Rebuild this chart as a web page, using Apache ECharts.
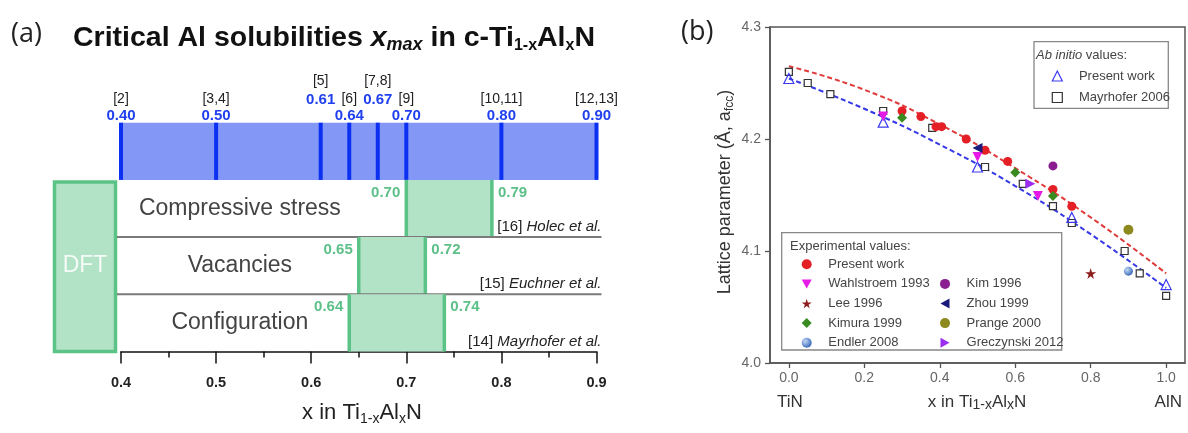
<!DOCTYPE html>
<html><head><meta charset="utf-8">
<script src="https://cdn.jsdelivr.net/npm/echarts@6/dist/echarts.min.js"></script>
<style>html,body{margin:0;padding:0;background:#fff}#c{width:1188px;height:433px}</style>
</head><body><div id="c"></div>
<script>
// ---------------- DATA: panel (a) ----------------
const litValues = [0.40, 0.50, 0.61, 0.64, 0.67, 0.70, 0.80, 0.90];
const litRefs = ['[2]', '[3,4]', '[5]', '[6]', '[7,8]', '[9]', '[10,11]', '[12,13]'];
const modelNames = ['Compressive stress', 'Vacancies', 'Configuration'];
const modelLow = [0.70, 0.65, 0.64];
const modelHigh = [0.79, 0.72, 0.74];
const modelRefNum = ['[16]', '[15]', '[14]'];
const modelRefAuthor = ['Holec et al.', 'Euchner et al.', 'Mayrhofer et al.'];
const methodLabel = 'DFT';

// ---------------- DATA: panel (b) ----------------
const xTicksB = [0.0, 0.2, 0.4, 0.6, 0.8, 1.0];
const abPresentX = [0.00, 0.25, 0.50, 0.75, 1.00];
const abPresentY = [4.254, 4.215, 4.175, 4.130, 4.070];
const mayrhoferX = [0.00, 0.05, 0.11, 0.25, 0.38, 0.52, 0.62, 0.70, 0.75, 0.89, 0.93, 1.00];
const mayrhoferY = [4.260, 4.250, 4.240, 4.225, 4.210, 4.175, 4.160, 4.140, 4.125, 4.100, 4.080, 4.060];
const expPresentX = [0.30, 0.35, 0.39, 0.405, 0.47, 0.52, 0.58, 0.70, 0.75];
const expPresentY = [4.225, 4.220, 4.211, 4.211, 4.200, 4.190, 4.180, 4.155, 4.140];
const wahlX = [0.25, 0.50, 0.66];
const wahlY = [4.220, 4.184, 4.149];
const leeX = [0.80];
const leeY = [4.080];
const kimuraX = [0.30, 0.60, 0.70];
const kimuraY = [4.219, 4.170, 4.149];
const endlerX = [0.90];
const endlerY = [4.082];
const kimX = [0.70];
const kimY = [4.176];
const zhouX = [0.50];
const zhouY = [4.192];
const prangeX = [0.90];
const prangeY = [4.119];
const greczX = [0.64];
const greczY = [4.160];
const fitX = [0.00, 0.20, 0.40, 0.60, 0.80, 1.00];
const fitExpY = [4.265, 4.244, 4.213, 4.174, 4.130, 4.080];
const fitAbY = [4.254, 4.227, 4.195, 4.158, 4.115, 4.067];

// ---------------- STYLE ----------------
const FONT = '"Liberation Sans", Arial, Helvetica, sans-serif';
const BAND = '#8398f6';
const BLUE_LINE = '#0b30f2';
const BLUE_TXT = '#1f3ff0';
const GREEN_FILL = '#b3e3c6';
const GREEN_LINE = '#5cc387';
const GREEN_TXT = '#5cc088';
const ROW_NAME_X = 0.525;
const TRI_DOWN = 'path://M0,0 L10,0 L5,9 Z';
const TRI_LEFT = 'path://M9,0 L9,10 L0,5 Z';
const TRI_RIGHT = 'path://M0,0 L0,10 L9,5 Z';
const STAR = 'path://M50,0 L61,35 L98,35 L68,57 L79,91 L50,70 L21,91 L32,57 L2,35 L39,35 Z';

const zip = (xs, ys) => xs.map((x, i) => [x, ys[i]]);

// tier of literature labels: raise a label when the next line is very close
const litTier = litValues.map(() => 0);
for (let i = 0; i < litValues.length - 1; i++) {
  if (litValues[i + 1] - litValues[i] < 0.045 && (i === 0 || litTier[i - 1] === 0)) litTier[i] = 1;
}

function txt(x, y, text, font, fill, align, valign, extra) {
  return Object.assign({ type: 'text', x: x, y: y, style: { text: text, font: font, fill: fill,
    textAlign: align, textVerticalAlign: valign, align: align, verticalAlign: valign } }, extra || {});
}

const chart = echarts.init(document.getElementById('c'), null, { renderer: 'canvas' });

const nRows = modelNames.length;

const series = [
  // blue band of experimental values
  { type: 'custom', xAxisIndex: 0, yAxisIndex: 0, clip: false, silent: true, z: 1,
    data: [[litValues[0], litValues[litValues.length - 1]]],
    renderItem: (p, api) => {
      const a = api.coord([api.value(0), nRows + 1]);
      const b = api.coord([api.value(1), nRows]);
      return { type: 'rect', shape: { x: a[0], y: a[1], width: b[0] - a[0], height: b[1] - a[1] }, style: { fill: BAND } };
    } },
  // literature lines and labels
  { type: 'custom', xAxisIndex: 0, yAxisIndex: 0, clip: false, silent: true, z: 2,
    data: litValues.map((v, i) => [v, i]),
    renderItem: (p, api) => {
      const i = p.dataIndex, v = api.value(0);
      const t = api.coord([v, nRows + 1]);
      const b = api.coord([v, nRows]);
      const tier = litTier[i];
      return { type: 'group', children: [
        { type: 'line', shape: { x1: t[0], y1: t[1], x2: b[0], y2: b[1] }, style: { stroke: BLUE_LINE, lineWidth: 4 } },
        txt(t[0], t[1] - 7 - 16 * tier, v.toFixed(2), 'bold 15px ' + FONT, BLUE_TXT, 'center', 'middle'),
        txt(t[0], t[1] - 23.5 - 18.5 * tier, litRefs[i], '14px ' + FONT, '#222', 'center', 'middle')
      ] };
    } },
  // DFT box
  { type: 'custom', xAxisIndex: 0, yAxisIndex: 0, clip: false, silent: true, z: 2,
    data: [[0, nRows]],
    renderItem: (p, api) => {
      const a = api.coord([litValues[0], api.value(1)]);
      const b = api.coord([litValues[0], api.value(0)]);
      const x0 = a[0] - 66.5, x1 = a[0] - 5.5;
      return { type: 'group', children: [
        { type: 'rect', shape: { x: x0, y: a[1] + 2, width: x1 - x0, height: b[1] - a[1] - 2 },
          style: { fill: GREEN_FILL, stroke: GREEN_LINE, lineWidth: 3.5 } },
        txt((x0 + x1) / 2, (a[1] + b[1]) / 2, methodLabel, '23px ' + FONT, '#f4fbf7', 'center', 'middle')
      ] };
    } },
  // DFT model rows
  { type: 'custom', xAxisIndex: 0, yAxisIndex: 0, clip: false, silent: true, z: 3,
    data: modelNames.map((n, i) => [modelLow[i], modelHigh[i]]),
    renderItem: (p, api) => {
      const i = p.dataIndex, lo = api.value(0), hi = api.value(1);
      const yTop = nRows - i, yBot = nRows - i - 1;
      const a = api.coord([lo, yTop]);
      const b = api.coord([hi, yBot]);
      const xStart = api.coord([litValues[0], 0])[0];
      const xEnd = api.coord([litValues[litValues.length - 1], 0])[0] + 5;
      const ch = [];
      ch.push({ type: 'rect', shape: { x: a[0], y: a[1], width: b[0] - a[0], height: b[1] - a[1] }, style: { fill: GREEN_FILL } });
      ch.push({ type: 'line', shape: { x1: a[0], y1: a[1], x2: a[0], y2: b[1] }, style: { stroke: GREEN_LINE, lineWidth: 3.5 } });
      ch.push({ type: 'line', shape: { x1: b[0], y1: a[1], x2: b[0], y2: b[1] }, style: { stroke: GREEN_LINE, lineWidth: 3.5 } });
      ch.push(txt(a[0] - 6, a[1] + 13, lo.toFixed(2), 'bold 15px ' + FONT, GREEN_TXT, 'right', 'middle'));
      ch.push(txt(b[0] + 6, a[1] + 13, hi.toFixed(2), 'bold 15px ' + FONT, GREEN_TXT, 'left', 'middle'));
      const nm = api.coord([ROW_NAME_X, (yTop + yBot) / 2]);
      ch.push(txt(nm[0], nm[1], modelNames[i], '23px ' + FONT, '#444', 'center', 'middle'));
      ch.push({ type: 'text', x: xEnd, y: b[1] - 10, style: {
        text: '{n|' + modelRefNum[i] + ' }{a|' + modelRefAuthor[i] + '}', fill: '#222',
        font: '15px ' + FONT, textAlign: 'right', textVerticalAlign: 'middle', align: 'right', verticalAlign: 'middle',
        rich: { n: { fontSize: 15, fontFamily: FONT, fill: '#222' }, a: { fontSize: 15, fontStyle: 'italic', fontFamily: FONT, fill: '#222' } } } });
      if (i < nRows - 1) {
        ch.push({ type: 'line', shape: { x1: xStart - 4, y1: b[1], x2: xEnd, y2: b[1] }, style: { stroke: '#7a7a7a', lineWidth: 2 } });
      }
      return { type: 'group', children: ch };
    } },

  // ---------- panel (b) ----------
  { name: 'fitExp', type: 'line', xAxisIndex: 1, yAxisIndex: 1, data: zip(fitX, fitExpY), smooth: true, symbol: 'none',
    lineStyle: { color: '#e03a3a', width: 2, type: [5, 3] }, silent: true, z: 1 },
  { name: 'fitAb', type: 'line', xAxisIndex: 1, yAxisIndex: 1, data: zip(fitX, fitAbY), smooth: true, symbol: 'none',
    lineStyle: { color: '#3438e6', width: 2, type: [5, 3] }, silent: true, z: 1 },
  { name: 'Mayrhofer 2006', type: 'scatter', xAxisIndex: 1, yAxisIndex: 1, data: zip(mayrhoferX, mayrhoferY),
    symbol: 'rect', symbolSize: 7, itemStyle: { color: '#fff', borderColor: '#333', borderWidth: 1.2, opacity: 1 }, z: 3 },
  { name: 'Present work (ab initio)', type: 'scatter', xAxisIndex: 1, yAxisIndex: 1, data: zip(abPresentX, abPresentY),
    symbol: 'triangle', symbolSize: 10, itemStyle: { color: 'rgba(255,255,255,0)', borderColor: '#3a3af0', borderWidth: 1.2, opacity: 1 }, z: 3 },
  { name: 'Present work (exp.)', type: 'scatter', xAxisIndex: 1, yAxisIndex: 1, data: zip(expPresentX, expPresentY),
    symbol: 'circle', symbolSize: 9, itemStyle: { color: '#e42026', opacity: 1 }, z: 4 },
  { name: 'Wahlstroem 1993', type: 'scatter', xAxisIndex: 1, yAxisIndex: 1, data: zip(wahlX, wahlY),
    symbol: TRI_DOWN, symbolSize: 10, itemStyle: { color: '#e619e6', opacity: 1 }, z: 4 },
  { name: 'Lee 1996', type: 'scatter', xAxisIndex: 1, yAxisIndex: 1, data: zip(leeX, leeY),
    symbol: STAR, symbolSize: 11, itemStyle: { color: '#8e1d1d', opacity: 1 }, z: 4 },
  { name: 'Kimura 1999', type: 'scatter', xAxisIndex: 1, yAxisIndex: 1, data: zip(kimuraX, kimuraY),
    symbol: 'diamond', symbolSize: 10, itemStyle: { color: '#3a8a22', opacity: 1 }, z: 4 },
  { name: 'Endler 2008', type: 'scatter', xAxisIndex: 1, yAxisIndex: 1, data: zip(endlerX, endlerY),
    symbol: 'circle', symbolSize: 9,
    itemStyle: { color: { type: 'radial', x: 0.35, y: 0.35, r: 0.75, colorStops: [{ offset: 0, color: '#c4daf5' }, { offset: 1, color: '#2c5fb4' }] }, opacity: 1 }, z: 4 },
  { name: 'Kim 1996', type: 'scatter', xAxisIndex: 1, yAxisIndex: 1, data: zip(kimX, kimY),
    symbol: 'circle', symbolSize: 9, itemStyle: { color: '#8a1d90', opacity: 1 }, z: 4 },
  { name: 'Zhou 1999', type: 'scatter', xAxisIndex: 1, yAxisIndex: 1, data: zip(zhouX, zhouY),
    symbol: TRI_LEFT, symbolSize: 10, itemStyle: { color: '#1a1a7a', opacity: 1 }, z: 4 },
  { name: 'Prange 2000', type: 'scatter', xAxisIndex: 1, yAxisIndex: 1, data: zip(prangeX, prangeY),
    symbol: 'circle', symbolSize: 10, itemStyle: { color: '#8c8a1e', opacity: 1 }, z: 4 },
  { name: 'Greczynski 2012', type: 'scatter', xAxisIndex: 1, yAxisIndex: 1, data: zip(greczX, greczY),
    symbol: TRI_RIGHT, symbolSize: 10, itemStyle: { color: '#9a2df0', opacity: 1 }, z: 4 }
];

const legendCommon = {
  orient: 'vertical', padding: 0, itemWidth: 10, itemHeight: 10, selectedMode: false,
  textStyle: { fontSize: 13, color: '#444', fontFamily: FONT, lineHeight: 14, padding: [0, 0, 0, 11.6] },
  formatter: n => n.replace(' (ab initio)', '').replace(' (exp.)', '')
};

const subRich = (main, sub, mainLH, subLH, color, weight) => ({
  m: { fontSize: main, fontFamily: FONT, lineHeight: mainLH, fill: color, fontWeight: weight || 'normal' },
  s: { fontSize: sub, fontFamily: FONT, lineHeight: subLH, verticalAlign: 'bottom', fill: color, fontWeight: weight || 'normal' }
});

const graphics = [
  txt(11, 34, '(a)', '27px "Open Sans", ' + FONT, '#222', 'left', 'middle'),
  txt(681, 32, '(b)', '27px "Open Sans", ' + FONT, '#222', 'left', 'middle'),
  { type: 'text', x: 334, y: 38, style: {
    text: '{b|Critical Al solubilities }{bi|x}{bis|max}{b| in c-Ti}{bs|1-x}{b|Al}{bs|x}{b|N}',
    fill: '#111', font: 'bold 28px ' + FONT, textAlign: 'center', textVerticalAlign: 'middle', align: 'center', verticalAlign: 'middle',
    rich: {
      b: { fontSize: 28.5, fontWeight: 'bold', fontFamily: FONT, lineHeight: 32, fill: '#111' },
      bi: { fontSize: 28.5, fontWeight: 'bold', fontStyle: 'italic', fontFamily: FONT, lineHeight: 32, fill: '#111' },
      bis: { fontSize: 18, fontWeight: 'bold', fontStyle: 'italic', fontFamily: FONT, lineHeight: 20, verticalAlign: 'bottom', fill: '#111' },
      bs: { fontSize: 16, fontWeight: 'bold', fontFamily: FONT, lineHeight: 25, verticalAlign: 'bottom', fill: '#111' }
    } } },
  { type: 'text', x: 362, y: 413, style: {
    text: '{m|x in Ti}{s|1-x}{m|Al}{s|x}{m|N}', fill: '#222', font: '22px ' + FONT,
    textAlign: 'center', textVerticalAlign: 'middle', align: 'center', verticalAlign: 'middle',
    rich: subRich(22, 14, 26, 20, '#222') } },
  // panel (b) axis names
  { type: 'text', x: 725, y: 192, rotation: Math.PI / 2, style: {
    text: '{m|Lattice parameter (Å, a}{s|fcc}{m|)}', fill: '#333', font: '18px ' + FONT,
    textAlign: 'center', textVerticalAlign: 'middle', align: 'center', verticalAlign: 'middle',
    rich: subRich(18, 12, 22, 14, '#333') } },
  txt(777, 402, 'TiN', '17px ' + FONT, '#333', 'left', 'middle'),
  txt(1182, 402, 'AlN', '17px ' + FONT, '#333', 'right', 'middle'),
  { type: 'text', x: 977, y: 402, style: {
    text: '{m|x in Ti}{s|1-x}{m|Al}{s|x}{m|N}', fill: '#333', font: '17px ' + FONT,
    textAlign: 'center', textVerticalAlign: 'middle', align: 'center', verticalAlign: 'middle',
    rich: subRich(17, 14, 20, 9, '#333') } },
  // legend boxes & headers
  { type: 'rect', shape: { x: 1034, y: 41.7, width: 134.3, height: 66.6 }, style: { fill: 'none', stroke: '#888', lineWidth: 1.3 } },
  { type: 'text', x: 1036, y: 55, style: {
    text: '{i|Ab initio}{n| values:}', fill: '#444', font: '13px ' + FONT,
    textAlign: 'left', textVerticalAlign: 'middle', align: 'left', verticalAlign: 'middle',
    rich: { i: { fontSize: 13, fontStyle: 'italic', fontFamily: FONT, fill: '#444' }, n: { fontSize: 13, fontFamily: FONT, fill: '#444' } } } },
  { type: 'rect', shape: { x: 781.7, y: 232.7, width: 280, height: 117.3 }, style: { fill: 'none', stroke: '#888', lineWidth: 1.3 } },
  txt(790, 246.7, 'Experimental values:', '13px ' + FONT, '#444', 'left', 'middle')
];

const option = {
  animation: false,
  backgroundColor: '#fff',
  textStyle: { fontFamily: FONT },
  grid: [
    { left: 121, top: 122.7, width: 475.5, height: 228.8 },
    { left: 770, top: 27, width: 415, height: 336, show: true, borderColor: '#555', borderWidth: 1.5, backgroundColor: 'transparent' }
  ],
  xAxis: [
    { gridIndex: 0, type: 'value', min: 0.4, max: 0.9, interval: 0.1,
      axisLine: { show: true, onZero: false, lineStyle: { color: '#111', width: 1.5 } },
      axisTick: { show: true, length: 12, lineStyle: { color: '#111', width: 1.5 } },
      minorTick: { show: true, splitNumber: 2, length: 6, lineStyle: { color: '#111', width: 1.5 } },
      axisLabel: { margin: 24, fontSize: 14.5, fontWeight: 'bold', color: '#222', fontFamily: FONT, formatter: v => v.toFixed(1) },
      splitLine: { show: false } },
    { gridIndex: 1, type: 'value', min: -0.05, max: 1.05, position: 'bottom',
      axisLine: { show: true, onZero: false, lineStyle: { color: '#555', width: 1.5 } },
      axisTick: { show: true, length: 5, customValues: xTicksB, lineStyle: { color: '#555', width: 1.3 } },
      axisLabel: { margin: 8, fontSize: 14, color: '#666', fontFamily: FONT, customValues: xTicksB, formatter: v => v.toFixed(1) },
      splitLine: { show: false } }
  ],
  yAxis: [
    { gridIndex: 0, type: 'value', min: 0, max: nRows + 1, show: false },
    { gridIndex: 1, type: 'value', min: 4.0, max: 4.3, interval: 0.1, position: 'left',
      axisLine: { show: true, onZero: false, lineStyle: { color: '#555', width: 1.5 } },
      axisTick: { show: true, length: 5, lineStyle: { color: '#555', width: 1.3 } },
      axisLabel: { margin: 9, fontSize: 14, color: '#666', fontFamily: FONT, formatter: v => v.toFixed(1) },
      splitLine: { show: false } }
  ],
  legend: [
    Object.assign({}, legendCommon, { left: 1051.7, top: 69, itemGap: 7.5,
      data: [
        { name: 'Present work (ab initio)', itemStyle: { color: 'rgba(255,255,255,0)', borderColor: '#3a3af0', borderWidth: 1.2 } },
        { name: 'Mayrhofer 2006', itemStyle: { color: '#fff', borderColor: '#333', borderWidth: 1.2 } }
      ] }),
    Object.assign({}, legendCommon, { left: 801.7, top: 257.3, itemGap: 5.6,
      data: ['Present work (exp.)', 'Wahlstroem 1993', 'Lee 1996', 'Kimura 1999', 'Endler 2008'] }),
    Object.assign({}, legendCommon, { left: 940, top: 276.9, itemGap: 5.6,
      data: ['Kim 1996', 'Zhou 1999', 'Prange 2000', 'Greczynski 2012'] })
  ],
  graphic: { elements: graphics },
  series: series
};
chart.setOption(option);
</script>
</body></html>
